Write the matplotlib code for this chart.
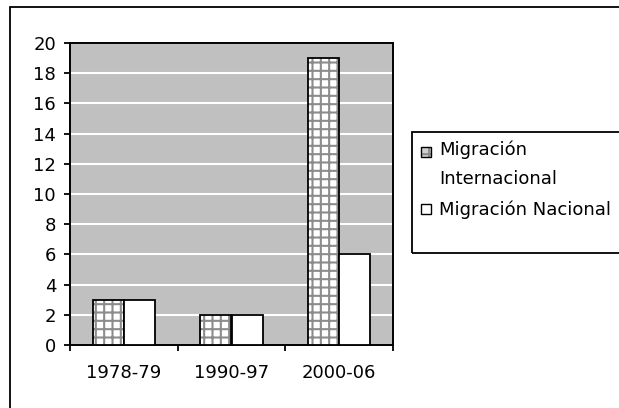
import matplotlib
matplotlib.use("Agg")
import matplotlib.pyplot as plt
from matplotlib.patches import Rectangle
import numpy as np

periodos = ["1978-79", "1990-97", "2000-06"]
internacional = [3, 2, 19]
nacional = [3, 2, 6]
etiquetas = ["Migración\nInternacional", "Migración Nacional"]

plt.rcParams['font.family'] = ['DejaVu Sans']
plt.rcParams['hatch.linewidth'] = 1.5

W, H = 619, 408
fig = plt.figure(figsize=(W / 100.0, H / 100.0), dpi=100)

def px(x0, y0, x1, y1):
    # caja en pixeles (origen arriba a la izquierda) -> fraccion de figura
    return [x0 / W, 1 - y1 / H, (x1 - x0) / W, (y1 - y0) / H]

def caja(x0, y0, x1, y1, **kw):
    b = px(x0, y0, x1, y1)
    r = Rectangle((b[0], b[1]), b[2], b[3], transform=fig.transFigure, **kw)
    fig.patches.append(r)
    return r

# borde exterior del grafico
caja(10, 7, 640, 430, fill=False, edgecolor='black', linewidth=1.3)

ax = fig.add_axes(px(70, 43, 393, 345))
ax.set_facecolor('#c0c0c0')

x = np.arange(len(periodos))
w = 0.29

# barras con trama (la trama en gris, el borde en negro)
ax.bar(x - w / 2, internacional, w, color='white', edgecolor='#8c8c8c',
       hatch='++', linewidth=0, zorder=3)
ax.bar(x - w / 2, internacional, w, fill=False, edgecolor='black',
       linewidth=1.3, zorder=4)
ax.bar(x + w / 2, nacional, w, color='white', edgecolor='black',
       linewidth=1.3, zorder=4)

ax.set_ylim(0, 20)
ax.set_xlim(-0.5, 2.5)
ax.set_yticks(range(0, 21, 2))
ax.yaxis.grid(True, color='white', linewidth=1.5)
ax.set_axisbelow(True)

ax.set_xticks(x)
ax.set_xticklabels(periodos)
ax.set_xticks([-0.5, 0.5, 1.5, 2.5], minor=True)
ax.tick_params(axis='x', which='major', length=0, pad=14, labelsize=13)
ax.tick_params(axis='x', which='minor', length=4, width=1.3, direction='out')
ax.tick_params(axis='y', length=4, width=1.3, direction='out', pad=6, labelsize=13)

for s in ax.spines.values():
    s.set_linewidth(1.4)
    s.set_color('black')

# leyenda (caja al estilo Excel, cortada por la derecha)
caja(412, 132, 640, 253, fill=False, edgecolor='black', linewidth=1.3)
caja(421, 147, 431, 157, facecolor='#d0d0d0', edgecolor='#8c8c8c', hatch='++',
     linewidth=0)
caja(421, 147, 431, 157, fill=False, edgecolor='black', linewidth=1)
caja(421, 204, 431, 214, facecolor='white', edgecolor='black', linewidth=1)

lin1, lin2 = etiquetas[0].split("\n")
fig.text(439 / W, 1 - 155 / H, lin1, fontsize=13, va='baseline')
fig.text(439 / W, 1 - 184 / H, lin2, fontsize=13, va='baseline')
fig.text(439 / W, 1 - 215 / H, etiquetas[1], fontsize=13, va='baseline')

fig.savefig("out.png", dpi=100)
